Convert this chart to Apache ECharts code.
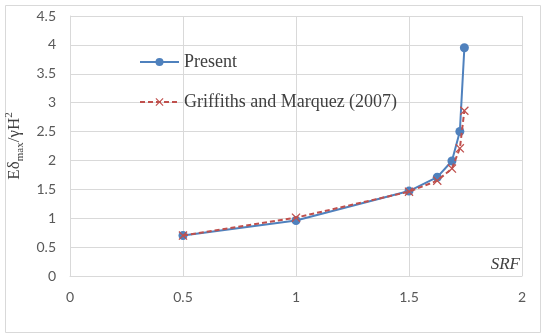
<!DOCTYPE html>
<html><head><meta charset="utf-8">
<script src="https://cdn.jsdelivr.net/npm/echarts@6/dist/echarts.min.js"></script>
<style>html,body{margin:0;padding:0;background:#fff}#c{width:546px;height:335px}</style>
</head><body><div id="c"></div>
<script>
var presentX = [0.5, 1.0, 1.5, 1.625, 1.69, 1.725, 1.745];
var presentY = [0.70, 0.96, 1.47, 1.71, 1.99, 2.50, 3.95];
var griffX = [0.5, 1.0, 1.5, 1.625, 1.69, 1.725, 1.745];
var griffY = [0.70, 1.01, 1.46, 1.65, 1.86, 2.21, 2.86];
var seriesNames = ['Present', 'Griffiths and Marquez (2007)'];

function pairs(xs, ys){ return xs.map(function(x,i){return [x, ys[i]];}); }
var crossPath = 'path://M0,1L1,0L5,4L9,0L10,1L6,5L10,9L9,10L5,6L1,10L0,9L4,5Z';
var chart = echarts.init(document.getElementById('c'));
chart.setOption({
  animation: false,
  backgroundColor: '#fff',
  grid: {left: 70, right: 24, top: 16, bottom: 59, containLabel: false, outerBoundsMode: 'none'},
  legend: {
    orient: 'vertical', left: 139, top: 53, padding: 0, itemGap: 22, itemWidth: 39, itemHeight: 10,
    textStyle: {fontFamily: 'Liberation Serif', fontSize: 18, color: '#404040'},
    data: seriesNames
  },
  xAxis: {
    type: 'value', min: 0, max: 2, interval: 0.5,
    axisLine: {show: true, lineStyle: {color: '#d9d9d9'}},
    axisTick: {show: false},
    splitLine: {show: true, lineStyle: {color: '#d9d9d9'}},
    axisLabel: {color: '#595959', fontFamily: 'Lato', fontSize: 14, margin: 14}
  },
  yAxis: {
    type: 'value', min: 0, max: 4.5, interval: 0.5,
    axisLine: {show: true, lineStyle: {color: '#d9d9d9'}},
    axisTick: {show: false},
    splitLine: {show: true, lineStyle: {color: '#d9d9d9'}},
    axisLabel: {color: '#595959', fontFamily: 'Lato', fontSize: 14, margin: 14},
    name: '{a|Eδ}{s|max}{a|/γH}{p|2}',
    nameLocation: 'middle', nameGap: 44, nameRotate: 90,
    nameTextStyle: {
      color: '#404040', fontFamily: 'Liberation Serif', fontSize: 17,
      rich: {
        a: {fontFamily: 'Liberation Serif', fontSize: 17, color: '#404040', lineHeight: 22, verticalAlign: 'middle'},
        s: {fontFamily: 'Liberation Serif', fontSize: 11, color: '#404040', lineHeight: 22, verticalAlign: 'bottom'},
        p: {fontFamily: 'Liberation Serif', fontSize: 11, color: '#404040', lineHeight: 22, verticalAlign: 'top'}
      }
    }
  },
  graphic: [
    {type: 'rect', left: 3, top: 3, shape: {width: 535, height: 327}, style: {fill: 'none', stroke: '#d9d9d9', lineWidth: 1}, z: -1},
    {type: 'text', right: 26, top: 256, style: {text: 'SRF', font: 'italic 17px "Liberation Serif"', fill: '#404040'}}
  ],
  series: [
    {
      name: seriesNames[0], type: 'line', data: pairs(presentX, presentY),
      symbol: 'circle', symbolSize: 9,
      lineStyle: {color: '#4f81bd', width: 2},
      itemStyle: {color: '#4f81bd'}, z: 3
    },
    {
      name: seriesNames[1], type: 'line', data: pairs(griffX, griffY),
      symbol: crossPath, symbolSize: 9,
      lineStyle: {color: '#c0504d', width: 2, type: [5, 3]},
      itemStyle: {color: '#c0504d'}, z: 4
    }
  ]
});
</script></body></html>
